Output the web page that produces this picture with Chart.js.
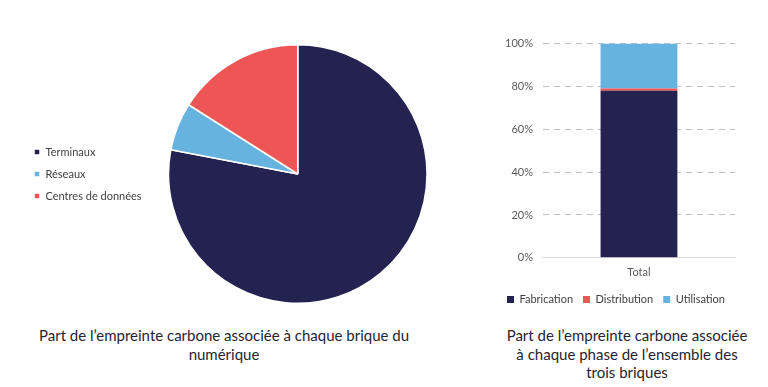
<!DOCTYPE html>
<html>
<head>
<meta charset="utf-8">
<script src="https://cdn.jsdelivr.net/npm/chart.js@4/dist/chart.umd.min.js"></script>
<style>
  body { margin: 0; background: #fff; width: 768px; height: 387px; position: relative; overflow: hidden; font-family: Lato, "Open Sans", sans-serif; }
  .box { position: absolute; }
  .caption { position: absolute; text-align: center; color: #262433; font-size: 15px; line-height: 18.5px; }
</style>
</head>
<body>
<div class="box" style="left:23px; top:44px; width:421px; height:260px;"><canvas id="pie"></canvas></div>
<div class="box" style="left:495px; top:27px; width:255px; height:288px;"><canvas id="bar"></canvas></div>
<div class="caption" style="left:14px; top:326px; width:420px;">Part de l’empreinte carbone associée à chaque brique du numérique</div>
<div class="caption" style="left:502px; top:326px; width:250px;">Part de l’empreinte carbone associée à chaque phase de l’ensemble des trois briques</div>
<script>
// pie: share per "brique"
const briques = ['Terminaux', 'Réseaux', 'Centres de données'];
const briqueParts = [78, 6, 16];
const briqueColors = ['#242250', '#67b3e0', '#ee5555'];

// stacked bar: share per phase
const barLabels = ['Total'];
const phases = ['Fabrication', 'Distribution', 'Utilisation'];
const fabrication = [78];
const distribution = [1];
const utilisation = [21];
const phaseColors = ['#242250', '#ee5555', '#67b3e0'];
const yTicks = [0, 20, 40, 60, 80, 100];

Chart.defaults.font.family = 'Lato, "Open Sans", sans-serif';
Chart.defaults.color = '#595959';
Chart.defaults.animation = false;

new Chart(document.getElementById('pie'), {
  type: 'pie',
  data: {
    labels: briques,
    datasets: [{ data: briqueParts, backgroundColor: briqueColors, borderColor: '#fff', borderWidth: 1.5 }]
  },
  options: {
    responsive: true,
    maintainAspectRatio: false,
    plugins: {
      tooltip: { enabled: false },
      legend: {
        position: 'left',
        labels: { boxWidth: 6, boxHeight: 6, padding: 11, font: { size: 11 }, color: '#404040' }
      }
    }
  }
});

const bars = [fabrication, distribution, utilisation];
new Chart(document.getElementById('bar'), {
  type: 'bar',
  data: {
    labels: barLabels,
    datasets: phases.map((p, i) => ({
      label: p,
      data: bars[i],
      backgroundColor: phaseColors[i],
      barPercentage: 0.4,
      categoryPercentage: 1
    }))
  },
  options: {
    responsive: true,
    maintainAspectRatio: false,
    layout: { padding: { top: 5, right: 15 } },
    scales: {
      x: {
        stacked: true,
        grid: { display: false },
        border: { display: true, color: '#d9d9d9' },
        ticks: { font: { size: 11 }, padding: 0 },
        afterFit: s => { s.height += 5; } // a bit more room above the legend
      },
      y: {
        stacked: true,
        min: 0,
        max: 100,
        afterBuildTicks: s => { s.ticks = yTicks.map(v => ({ value: v })); },
        grid: { color: '#bfbfbf', drawTicks: false },
        border: { display: false, dash: [6, 5] },
        ticks: { font: { size: 11 }, padding: 10, callback: v => v + '%' }
      }
    },
    plugins: {
      tooltip: { enabled: false },
      legend: {
        position: 'bottom',
        align: 'end',
        labels: { boxWidth: 7, boxHeight: 7, padding: 10, font: { size: 11 }, color: '#404040' }
      }
    }
  }
});
</script>
</body>
</html>
